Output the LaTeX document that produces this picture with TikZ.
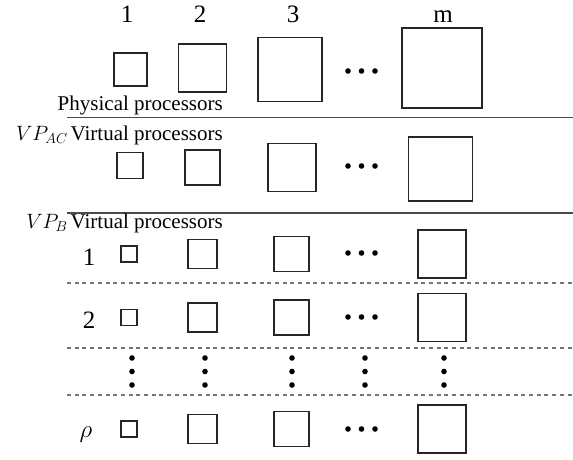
\documentclass[tikz,border=0pt]{standalone}
\usepackage{fontspec}
\setmainfont{Liberation Serif}
\begin{document}
\begin{tikzpicture}[x=1pt,y=-1pt,
  box/.style={draw=black!85,line width=1.1pt,inner sep=0pt,minimum size=#1},
  dot/.style={circle,fill=black,inner sep=0pt,minimum size=5.6pt},
  sep/.style={draw=black!70,line width=1.1pt},
  dsep/.style={draw=black!55,line width=1.1pt,dash pattern=on 4pt off 3.7pt},
  lab/.style={font=\fontsize{21}{25}\selectfont,anchor=base east,inner sep=0pt},
  num/.style={font=\fontsize{25}{30}\selectfont,anchor=base,inner sep=0pt}]
\useasboundingbox (0,0) rectangle (573,459);

% column numbers
\node[num] (c1) at (127,22) {1};
\node[num] (c2) at (200,22) {2};
\node[num] (c3) at (293,22) {3};
\node[num] (cm) at (443,22) {m};

% physical processors
\node[box=33pt] (p1) at (130.5,69.5) {};
\node[box=48pt] (p2) at (202.5,68) {};
\node[box=64pt] (p3) at (290,69.5) {};
\node[box=80pt] (pm) at (442,68) {};
\foreach \x [count=\i] in {348,361.5,375} \node[dot] (pd\i) at (\x,71) {};
\node[lab] (lphys) at (223,110) {Physical processors};

\coordinate (l1a) at (67,117.5); \coordinate (l1b) at (573,117.5);
\draw[sep] (l1a) -- (l1b);

% VP_AC
\node[lab] (lac) at (223,140) {{\fontsize{22.5}{26}\selectfont$VP_{AC}$}\hspace{3pt}Virtual processors};
\node[box=26pt] (a1) at (130,165.5) {};
\node[box=35pt] (a2) at (202.5,167.5) {};
\node[box=48pt] (a3) at (292,167.5) {};
\node[box=64pt] (am) at (440.5,169) {};
\foreach \x [count=\i] in {348,361.5,375} \node[dot] (ad\i) at (\x,166) {};

\coordinate (l2a) at (67,213); \coordinate (l2b) at (573,213);
\draw[sep] (l2a) -- (l2b);

% VP_B
\node[lab] (lb) at (223,228) {{\fontsize{22.5}{26}\selectfont$VP_{B}$}\hspace{3pt}Virtual processors};

% row 1
\node[num] (r1) at (89,265) {1};
\node[box=16pt] (b11) at (129,254) {};
\node[box=29pt] (b12) at (202.5,254) {};
\node[box=35pt] (b13) at (291.5,254) {};
\node[box=48pt] (b1m) at (442,254) {};
\foreach \x [count=\i] in {348,361.5,375} \node[dot] (bd1\i) at (\x,253) {};

\coordinate (d1a) at (67,283); \coordinate (d1b) at (573,283);
\draw[dsep] (d1a) -- (d1b);

% row 2
\node[num] (r2) at (89,328) {2};
\node[box=16pt] (b21) at (129,317.5) {};
\node[box=29pt] (b22) at (202.5,317.5) {};
\node[box=35pt] (b23) at (291.5,317.5) {};
\node[box=48pt] (b2m) at (442,317.5) {};
\foreach \x [count=\i] in {348,361.5,375} \node[dot] (bd2\i) at (\x,317) {};

\coordinate (d2a) at (67,348); \coordinate (d2b) at (573,348);
\draw[dsep] (d2a) -- (d2b);

% vertical dots
\foreach \x [count=\i] in {132,205,292,365,444}
  \foreach \y [count=\j] in {358,371.5,385}
    \node[dot] (vd\i\j) at (\x,\y) {};

\coordinate (d3a) at (67,395); \coordinate (d3b) at (573,395);
\draw[dsep] (d3a) -- (d3b);

% row rho
\node[num,font=\fontsize{28}{32}\selectfont] (rr) at (86,437) {$\rho$};
\node[box=16pt] (br1) at (129,429) {};
\node[box=29pt] (br2) at (202.5,429) {};
\node[box=35pt] (br3) at (291.5,429) {};
\node[box=48pt] (brm) at (442,429) {};
\foreach \x [count=\i] in {348,361.5,375} \node[dot] (brd\i) at (\x,429) {};
\end{tikzpicture}
\end{document}
